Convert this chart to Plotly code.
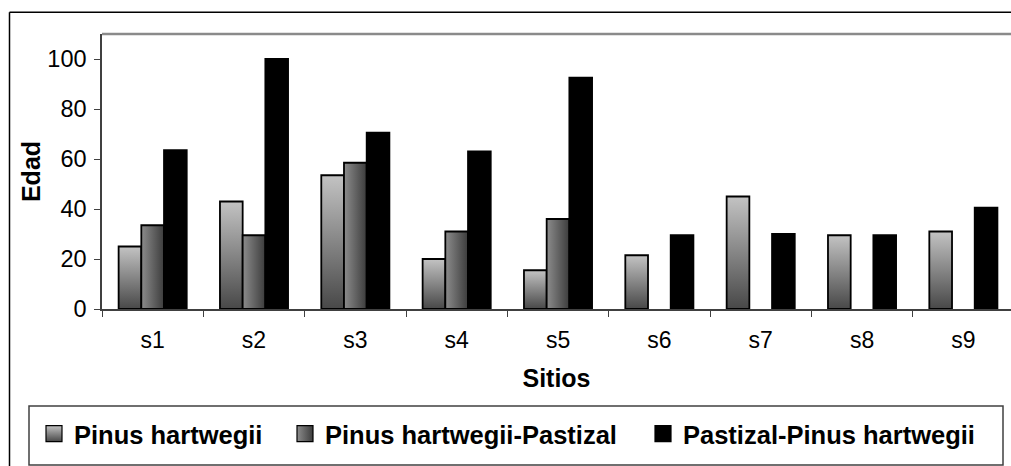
import plotly.graph_objects as go

# Site ages by vegetation type
CATEGORIES = ["s1", "s2", "s3", "s4", "s5", "s6", "s7", "s8", "s9"]
SERIES_NAMES = ["Pinus hartwegii", "Pinus hartwegii-Pastizal", "Pastizal-Pinus hartwegii"]
PINUS = [25, 43, 53.5, 20, 15.5, 21.5, 45, 29.5, 31]
PINUS_PASTIZAL = [33.5, 29.5, 58.5, 31, 36, None, None, None, None]
PASTIZAL_PINUS = [63.5, 100, 70.5, 63, 92.5, 29.5, 30, 29.5, 40.5]
Y_TICKS = [0, 20, 40, 60, 80, 100]

SERIES = [PINUS, PINUS_PASTIZAL, PASTIZAL_PINUS]

FONT = "Liberation Sans, Arial, sans-serif"
BAR_W = 0.224  # width of a single bar, in category units

# fill style per series: vertical grey ramp, horizontal grey ramp, solid black
FILLS = [
    dict(fillgradient=dict(type="vertical",
                           colorscale=[[0, "#484848"], [1, "#c3c3c3"]])),
    dict(fillgradient=dict(type="horizontal",
                           colorscale=[[0, "#8c8c8c"], [1, "#3c3c3c"]])),
    dict(fillcolor="black"),
]
LEGEND_MARKERS = [
    dict(color="#c3c3c3", gradient=dict(type="vertical", color="#484848")),
    dict(color="#8c8c8c", gradient=dict(type="horizontal", color="#3c3c3c")),
    dict(color="black"),
]
LEGEND_IDS = ["legend", "legend2", "legend3"]

W, H = 1011, 466
L, R, T, B = 102, 0, 34, 157
PW, PH = W - L - R, H - T - B


def px_x(px):
    return (px - L) / PW


def px_y(py):
    return (H - B - py) / PH


fig = go.Figure()

for k, (name, values) in enumerate(zip(SERIES_NAMES, SERIES)):
    offset = (k - 1) * BAR_W
    for i, v in enumerate(values):
        if v is None:
            continue
        x0 = i + offset - BAR_W / 2
        x1 = x0 + BAR_W
        fig.add_trace(go.Scatter(
            x=[x0, x0, x1, x1, x0],
            y=[0, v, v, 0, 0],
            mode="lines",
            fill="toself",
            line=dict(color="black", width=1.8),
            legendgroup=name,
            showlegend=False,
            name=name,
            hovertemplate=f"{CATEGORIES[i]}: {v}<extra>{name}</extra>",
            **FILLS[k],
        ))
    # legend entry for the series
    fig.add_trace(go.Scatter(
        x=[None], y=[None],
        mode="markers",
        name=name,
        legendgroup=name,
        legend=LEGEND_IDS[k],
        marker=dict(symbol="square", size=16,
                    line=dict(color="black", width=1.2),
                    **LEGEND_MARKERS[k]),
    ))

legend_font = dict(family=FONT, size=25.5, weight="bold", color="black")
legend_text_left = [74, 325, 683]  # where each entry's label starts
legends = {}
for lid, tx in zip(LEGEND_IDS, legend_text_left):
    legends[lid] = dict(
        orientation="h",
        x=px_x(tx - 40), xanchor="left",
        y=px_y(434), yanchor="middle",
        font=legend_font,
        bgcolor="rgba(0,0,0,0)",
        borderwidth=0,
    )

# chart frame: only its left and top edges fall inside the page
frame_line = dict(color="black", width=1.5)
frame_left = dict(type="line", xref="paper", yref="paper",
                  x0=px_x(9.5), x1=px_x(9.5), y0=px_y(H), y1=px_y(12.3),
                  line=frame_line, layer="below")
frame_top = dict(type="line", xref="paper", yref="paper",
                 x0=px_x(9.5), x1=1, y0=px_y(12.3), y1=px_y(12.3),
                 line=frame_line, layer="below")

fig.update_layout(
    width=W, height=H,
    margin=dict(l=L, r=R, t=T, b=B),
    paper_bgcolor="white",
    plot_bgcolor="white",
    font=dict(family=FONT, color="black"),
    showlegend=True,
    **legends,
    xaxis=dict(
        range=[-0.5, 8.47],
        tickmode="array",
        tickvals=list(range(len(CATEGORIES))),
        ticktext=CATEGORIES,
        ticks="",
        tickfont=dict(family=FONT, size=23, color="black"),
        ticklabelstandoff=10,
        showline=True, linecolor="#404040", linewidth=1.5,
        showgrid=False, zeroline=False,
        minor=dict(
            tickmode="array",
            tickvals=[i - 0.5 for i in range(len(CATEGORIES) + 1)],
            ticks="outside", ticklen=6, tickwidth=1.3, tickcolor="#404040",
            showgrid=False,
        ),
        title=dict(text="Sitios", standoff=17,
                   font=dict(family=FONT, size=25, weight="bold", color="black")),
        fixedrange=True,
    ),
    yaxis=dict(
        range=[0, 110],
        tickmode="array",
        tickvals=Y_TICKS,
        ticks="outside", ticklen=6, tickwidth=1.3, tickcolor="#404040",
        tickfont=dict(family=FONT, size=23.5, color="black"),
        ticklabelstandoff=3,
        showline=True, linecolor="#404040", linewidth=1.5,
        showgrid=False, zeroline=False,
        title=dict(text="Edad", standoff=0,
                   font=dict(family=FONT, size=25, weight="bold", color="black")),
        fixedrange=True,
    ),
    shapes=[
        frame_left,
        frame_top,
        # top edge of the plot area
        dict(type="line", xref="paper", yref="paper",
             x0=0, x1=1, y0=1, y1=1,
             line=dict(color="#8a8a8a", width=2.5)),
        # legend frame
        dict(type="rect", xref="paper", yref="paper",
             x0=px_x(29), x1=px_x(1003), y0=px_y(465), y1=px_y(406),
             line=dict(color="#404040", width=1.5), fillcolor="rgba(0,0,0,0)"),
    ],
)

fig.write_html("out.html", config={"displayModeBar": False})
